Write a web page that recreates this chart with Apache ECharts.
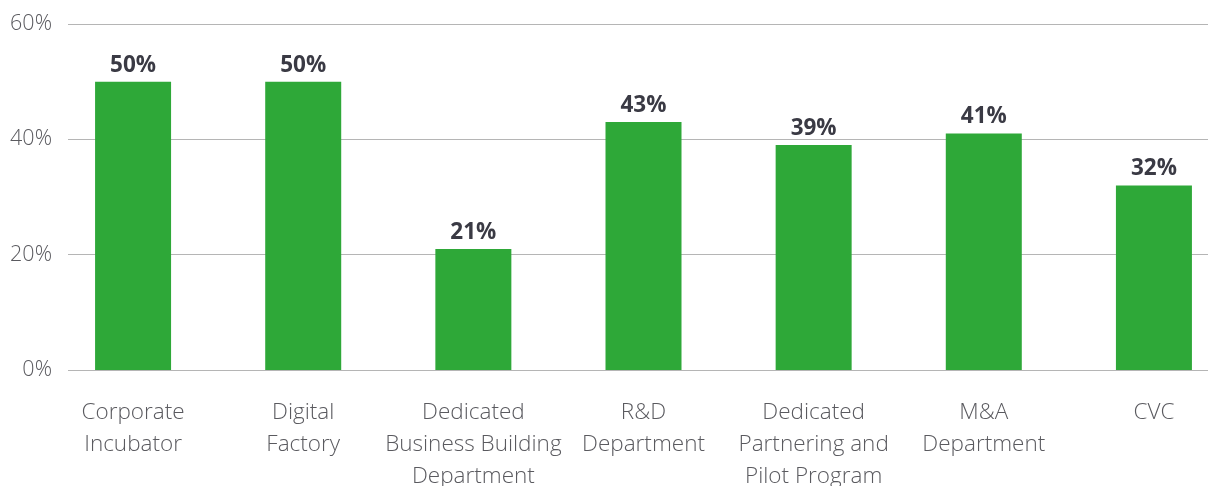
<!DOCTYPE html>
<html><head><meta charset="utf-8">
<script src="https://cdn.jsdelivr.net/npm/echarts@6/dist/echarts.min.js"></script>
<style>html,body{margin:0;padding:0;background:#fff}#c{width:1208px;height:486px}</style>
</head><body><div id="c"></div>
<script>
const categories = ["Corporate\nIncubator","Digital\nFactory","Dedicated\nBusiness Building\nDepartment","R&D\nDepartment","Dedicated\nPartnering and\nPilot Program","M&A\nDepartment","CVC"];
const values = [50,50,21,43,39,41,32];
const yTicks = [0,20,40,60];

const chart = echarts.init(document.getElementById('c'), null, {renderer:'canvas'});
chart.setOption({
  animation:false,
  grid:[
    {left:48, width:1191, top:24, bottom:116, containLabel:false, outerBoundsMode:'none'},
    {left:68, right:0, top:24, bottom:116, containLabel:false, outerBoundsMode:'none'}
  ],
  xAxis:[
    {type:'category', gridIndex:0, data:categories,
     axisLine:{show:false}, axisTick:{show:false},
     axisLabel:{interval:0, color:'#5a5a5f', fontFamily:'Open Sans', fontWeight:300, fontSize:22.5, lineHeight:32, margin:27, verticalAlign:'top', hideOverlap:false}},
    {type:'value', gridIndex:1, show:false, min:0, max:1}
  ],
  yAxis:[
    {type:'value', gridIndex:0, min:0, max:60, interval:20, show:false},
    {type:'value', gridIndex:1, min:yTicks[0], max:yTicks[yTicks.length-1], interval:20,
     axisLine:{show:false}, axisTick:{show:false},
     splitLine:{show:true, lineStyle:{color:'#b5b5b5', width:1}},
     axisLabel:{formatter:'{value}%', color:'#5a5a5f', fontFamily:'Open Sans', fontWeight:300, fontSize:21.5, margin:16}}
  ],
  series:[{
    type:'bar', xAxisIndex:0, yAxisIndex:0, data:values, barWidth:76,
    itemStyle:{color:'#2ea838'},
    label:{show:true, position:'top', distance:5, formatter:'{c}%', color:'#3a3a44', fontFamily:'Open Sans', fontWeight:'bold', fontSize:22.5}
  }]
});
</script></body></html>
